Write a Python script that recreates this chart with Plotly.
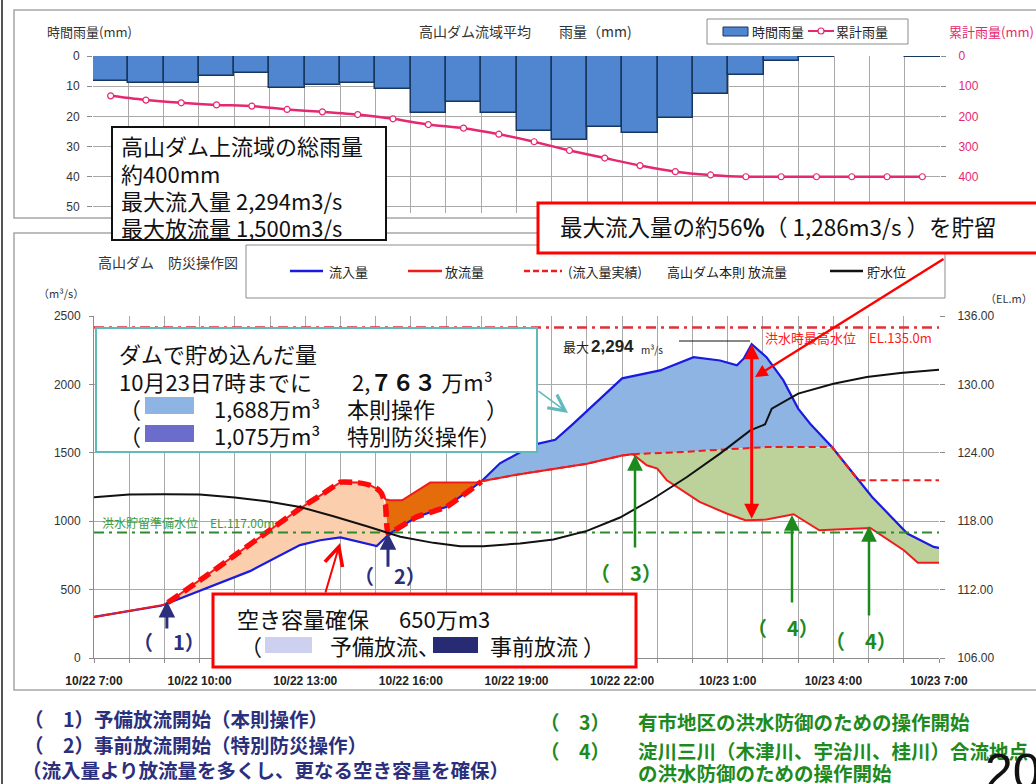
import numpy as np
import plotly.graph_objects as go

W, H = 1036, 784
CJK = "Noto Sans CJK JP"
LAT = "Liberation Sans"

# ---------------- data ----------------
rain_hour_index = list(range(24))          # hours after 10/22 7:00
hourly_rain_mm = [8.3, 9.0, 9.0, 6.6, 5.5, 10.7, 9.6, 9.0, 11.0, 19.0, 15.1, 18.9,
                  24.7, 27.8, 23.6, 25.4, 20.4, 12.7, 6.2, 1.7, 0.4, 0.0, 0.0, 0.3]
cumulative_rain_mm = [132, 146, 155, 162, 166, 177, 185, 194, 208, 227, 239, 259,
                      284, 313, 338, 363, 383, 394, 400, 400, 400, 400, 400, 400]

tick_hours = [0, 3, 6, 9, 12, 15, 18, 21, 24]
tick_labels = ["10/22 7:00", "10/22 10:00", "10/22 13:00", "10/22 16:00", "10/22 19:00",
               "10/22 22:00", "10/23 1:00", "10/23 4:00", "10/23 7:00"]

inflow_t = [0, 1, 1.9, 2.1, 3, 4.43, 5.85, 6.42, 7.0, 7.56, 8.03, 8.4, 9.16, 10.0, 10.87, 11.0,
            11.53, 12.5, 13.1, 13.6, 15.0, 16.08, 17.03, 17.78, 18.26, 18.45, 18.68, 19.1,
            19.58, 20.0, 20.34, 20.96, 22.1, 23.1, 23.85, 24]
inflow_q = [300, 345, 382, 400, 490, 635, 825, 861, 881, 849, 818, 910, 1031, 1104, 1263, 1290,
            1423, 1560, 1595, 1710, 2044, 2102, 2199, 2175, 2139, 2188, 2294, 2199,
            2029, 1823, 1713, 1542, 1177, 910, 812, 805]

outflow_t = [0, 1, 2, 2.1, 3, 4, 5, 5.85, 6.5, 7.0, 7.5, 7.84, 8.05, 8.17, 8.28, 8.4, 8.75,
             9.55, 10.87, 11.0, 12, 13, 14, 15, 15.3, 15.7, 16.0, 16.27, 16.55, 17.2, 17.97,
             18.5, 19.1, 19.87, 20.6, 21.3, 22.05, 23.0, 23.4, 24]
outflow_q = [300, 345, 390, 405, 566, 751, 936, 1093, 1200, 1285, 1282, 1263, 1235, 1202, 1160,
             1153, 1153, 1282, 1282, 1292, 1340, 1380, 1420, 1480, 1490, 1409, 1385, 1299, 1250,
             1141, 1056, 1007, 1012, 1051, 934, 940, 951, 788, 696, 696]

# thick dashed line: pre-release outflow, then rule outflow (= inflow)
pre_t = [2.1, 3, 4, 5, 5.85, 6.5, 7.0, 7.5, 7.84, 8.05, 8.17, 8.28, 8.35, 9.16, 10.0, 10.87, 11.0]
pre_q = [405, 566, 751, 936, 1093, 1200, 1285, 1282, 1263, 1235, 1202, 1120, 910, 1031, 1104,
         1263, 1290]

# 高山ダム本則 放流量 (dashed)
rule_t = [11.0, 12, 13, 14, 15, 15.3, 16.7, 18.0, 19.1, 20.96, 21.7, 24]
rule_q = [1292, 1340, 1380, 1420, 1480, 1490, 1506, 1525, 1542, 1542, 1300, 1300]

level_t = [0, 1, 2, 3, 4, 4.9, 5.85, 6.8, 7.75, 8.4, 8.7, 9.64, 10.4, 11.06, 12.1, 13.05, 14.0,
           14.94, 15.89, 16.84, 17.78, 18.64, 19.06, 19.25, 20.0, 21.0, 21.95, 22.9, 24]
level_el = [120.1, 120.35, 120.37, 120.34, 120.08, 119.75, 119.25, 118.44, 117.56, 116.92,
            116.63, 116.1, 115.81, 115.81, 116.05, 116.4, 117.15, 118.32, 119.99, 121.88,
            123.93, 125.97, 126.5, 127.87, 129.19, 130.06, 130.64, 130.99, 131.29]

max_flood_level_el = 135.0
standby_level_el = 117.0
peak_hour, peak_q, peak_out = 18.68, 2294, 1007

# ---------------- helpers ----------------
def P(x):
    return x / W


def Q(y):
    return 1 - y / H


GRID = "#a9a9a9"
BLUE = "#1a1ae0"
RED = "#f01c1c"
PINK = "#e5286f"
NAVY = "#2b2f7c"
GREEN = "#1e8a1e"
TEAL = "#5fb9bd"

fig = go.Figure()

# ---- top: rainfall ----
bar_x = [h + 0.5 for h in rain_hour_index]
fig.add_trace(go.Bar(x=bar_x, y=hourly_rain_mm, width=1.0, xaxis="x", yaxis="y",
                     marker=dict(color="#4f86cf", line=dict(color="#17375e", width=1.5)),
                     hoverinfo="skip"))
fig.add_trace(go.Scatter(x=bar_x, y=cumulative_rain_mm, xaxis="x", yaxis="y2",
                         mode="lines+markers",
                         line=dict(color=PINK, width=2.5, shape="spline", smoothing=0.5),
                         marker=dict(symbol="circle", size=6, color="white",
                                     line=dict(color=PINK, width=1.2)),
                         hoverinfo="skip"))


# ---- bottom: fills ----
def grid(a, b, *knots):
    parts = [np.linspace(a, b, 800)]
    for k in knots:
        parts.append(np.array([v for v in k if a <= v <= b], dtype=float))
    return np.unique(np.concatenate(parts))


def band(tt, top, bot, color):
    fig.add_trace(go.Scatter(x=np.concatenate([tt, tt[::-1]]),
                             y=np.concatenate([top, bot[::-1]]),
                             fill="toself", fillcolor=color, mode="lines",
                             line=dict(width=0), xaxis="x2", yaxis="y3", hoverinfo="skip"))


tt = grid(2.1, 8.35, pre_t, inflow_t)
band(tt, np.interp(tt, pre_t, pre_q), np.interp(tt, inflow_t, inflow_q), "#fbcfae")
tt = grid(8.28, 11.0, pre_t, outflow_t)
band(tt, np.interp(tt, outflow_t, outflow_q), np.interp(tt, pre_t, pre_q), "#e46c0a")
tt = grid(11.0, 21.3, rule_t, inflow_t)
inf = np.interp(tt, inflow_t, inflow_q)
band(tt, inf, np.minimum(np.interp(tt, rule_t, rule_q), inf), "#8db4e2")
tt = grid(15.3, 24, rule_t, inflow_t, outflow_t)
inf = np.interp(tt, inflow_t, inflow_q)
band(tt, np.minimum(np.interp(tt, rule_t, rule_q), inf), np.interp(tt, outflow_t, outflow_q),
     "#bdd19b")

# ---- bottom: lines ----
fig.add_trace(go.Scatter(x=inflow_t, y=inflow_q, xaxis="x2", yaxis="y3", mode="lines",
                         line=dict(color=BLUE, width=2.2), hoverinfo="skip"))
fig.add_trace(go.Scatter(x=rule_t, y=rule_q, xaxis="x2", yaxis="y3", mode="lines",
                         line=dict(color=RED, width=2, dash="7px,4px"), hoverinfo="skip"))
fig.add_trace(go.Scatter(x=outflow_t, y=outflow_q, xaxis="x2", yaxis="y3", mode="lines",
                         line=dict(color=RED, width=2), hoverinfo="skip"))
fig.add_trace(go.Scatter(x=pre_t, y=pre_q, xaxis="x2", yaxis="y3", mode="lines",
                         line=dict(color="#ff0a0a", width=5.5, dash="13px,6px", shape="spline",
                                   smoothing=0.3), hoverinfo="skip"))
fig.add_trace(go.Scatter(x=[0, 24], y=[max_flood_level_el] * 2, xaxis="x2", yaxis="y4",
                         mode="lines", line=dict(color="#e0303a", width=2.5,
                                                 dash="10px,5px,3px,5px"), hoverinfo="skip"))
fig.add_trace(go.Scatter(x=[0, 24], y=[standby_level_el] * 2, xaxis="x2", yaxis="y4",
                         mode="lines", line=dict(color="#2f8a2f", width=2,
                                                 dash="10px,5px,3px,5px"), hoverinfo="skip"))
fig.add_trace(go.Scatter(x=level_t, y=level_el, xaxis="x2", yaxis="y4", mode="lines",
                         line=dict(color="#111111", width=2), hoverinfo="skip"))

# ---------------- shapes ----------------
shapes = []


def rect(x0, y0, x1, y1, color=None, width=1.0, fill=None):
    shapes.append(dict(type="rect", xref="paper", yref="paper", x0=P(x0), x1=P(x1),
                       y0=Q(y1), y1=Q(y0), layer="above",
                       line=dict(color=color or "rgba(0,0,0,0)", width=width if color else 0),
                       fillcolor=fill or "rgba(0,0,0,0)"))


def seg(x0, y0, x1, y1, color, width, dash=None):
    shapes.append(dict(type="line", xref="paper", yref="paper", x0=P(x0), x1=P(x1),
                       y0=Q(y0), y1=Q(y1), layer="above",
                       line=dict(color=color, width=width, dash=dash)))


seg(2, 0, 2, 784, "#555555", 2)
rect(14, 10, 1046, 218, "#a6a6a6", 1.5)
rect(14, 233, 1046, 690, "#a6a6a6", 1.5)
# top legend
rect(707, 19, 908, 44, "#8c8c8c", 1, "white")
rect(723, 27, 748, 36, "#17375e", 1, "#4f86cf")
seg(808, 31, 834, 31, PINK, 2)
shapes.append(dict(type="circle", xref="paper", yref="paper", x0=P(818), x1=P(824),
                   y0=Q(34), y1=Q(28), layer="above", fillcolor="white",
                   line=dict(color=PINK, width=1.2)))
# bottom legend
rect(246, 245, 945, 298, "#8c8c8c", 1, "white")
seg(290, 271, 323, 271, BLUE, 2.5)
seg(408, 271, 442, 271, RED, 2.5)
seg(524, 271, 562, 271, RED, 2.5, "6px,3px")
seg(830, 271, 863, 271, "#111111", 2.5)
# boxes
rect(112, 127, 386, 240, "#111111", 2, "white")
rect(538, 203, 1046, 253, "#ff0000", 3, "white")
rect(96, 328, 537, 452, TEAL, 2, "white")
rect(145, 397, 194, 414, None, 0, "#8db4e2")
rect(145, 425, 194, 442, None, 0, "#6c6ccd")
rect(213, 594, 636, 667, "#ff0000", 3, "white")
rect(265, 637, 312, 653, None, 0, "#cdd0ee")
rect(433, 637, 478, 653, None, 0, "#262b73")
seg(679, 341, 750, 341, "#111111", 1.2)

# ---------------- annotations ----------------
ann = []


def text(x, y, s, size=13, color="#222222", family=CJK, anchor="left"):
    ann.append(dict(xref="paper", yref="paper", x=P(x), y=Q(y), text=s, showarrow=False,
                    xanchor=anchor, yanchor="middle",
                    font=dict(size=size, color=color, family=family)))


def arrow(x, y, ax, ay, color, width, head=2, size=1.0, data_tail=False, both=False):
    d = dict(xref="x2", yref="y3", x=x, y=y, ax=ax, ay=ay, text="", showarrow=True,
             arrowcolor=color, arrowwidth=width, arrowhead=head, arrowsize=size)
    if data_tail:
        d.update(axref="x2", ayref="y3")
    if both:
        d.update(arrowside="end+start", startarrowhead=head, startarrowsize=size)
    ann.append(d)


# top chart texts
text(45, 31, "時間雨量(mm)", 13, "#333333")
text(417, 31, "高山ダム流域平均", 14, "#333333")
text(557, 31, "雨量（mm)", 14, "#333333")
text(947, 31, "累計雨量(mm)", 13, PINK)
text(750, 31, "時間雨量", 13, "#222222")
text(834, 31, "累計雨量", 13, "#222222")
text(119, 145, "高山ダム上流域の総雨量", 22, "#111111")
text(119, 173, "約400mm", 22, "#111111")
text(119, 200, "最大流入量 2,294m3/s", 22, "#111111")
text(119, 227, "最大放流量 1,500m3/s", 22, "#111111")
text(558, 226, "最大流入量の約56<b>％</b>（ 1,286m3/s ）を貯留", 22.5, "#111111")

# bottom chart texts
text(96, 262, "高山ダム　防災操作図", 14, "#333333")
text(327, 272, "流入量", 13)
text(443, 272, "放流量", 13)
text(566, 272, "(流入量実績)", 13)
text(665, 272, "高山ダム本則 放流量", 13)
text(865, 272, "貯水位", 13)
text(36, 293, "（m³/s）", 11, "#333333")
text(983, 298, "（EL.m）", 11, "#333333")
text(763, 337, "洪水時最高水位　EL.135.0m", 13, "#ff1a1a")
text(100, 522, "洪水貯留準備水位　EL.117.00m", 12, "#3f9a3f")
text(561, 347, "最大", 13, "#222222")
text(589, 346, "<b>2,294</b>", 17, "#222222", LAT)
text(639, 349, "m³/s", 10, "#222222")

text(117, 353, "ダムで貯め込んだ量", 22, "#111111")
text(117, 381, "10月23日7時までに", 22, "#111111")
text(350, 381, "2,<b>７６３</b> 万m³", 22, "#111111")
text(117, 408, "（", 22, "#111111")
text(212, 408, "1,688万m³", 22, "#111111")
text(345, 408, "本則操作", 22, "#111111")
text(484, 408, "）", 22, "#111111")
text(117, 435, "（", 22, "#111111")
text(212, 435, "1,075万m³", 22, "#111111")
text(345, 435, "特別防災操作）", 22, "#111111")

text(235, 618, "空き容量確保", 22, "#111111")
text(397, 618, "650万m3", 22, "#111111")
text(238, 645, "（", 22, "#111111")
text(328, 645, "予備放流、", 22, "#111111")
text(488, 645, "事前放流 ）", 22, "#111111")

text(131, 641, "<b>（　1）</b>", 20, NAVY)
text(352, 575, "<b>（　2）</b>", 20, NAVY)
text(588, 572, "<b>（　3）</b>", 20, GREEN)
text(745, 627, "<b>（　4）</b>", 20, GREEN)
text(823, 640, "<b>（　4）</b>", 20, GREEN)

# bottom notes
text(22, 718, "<b>（　1）予備放流開始（本則操作）</b>", 19.5, NAVY)
text(22, 744, "<b>（　2）事前放流開始（特別防災操作）</b>", 19.5, NAVY)
text(20, 769, "<b>（流入量より放流量を多くし、更なる空き容量を確保）</b>", 19.5, NAVY)
text(538, 721, "<b>（　3）</b>", 19.5, GREEN)
text(636, 721, "<b>有市地区の洪水防御のための操作開始</b>", 19.5, GREEN)
text(538, 750, "<b>（　4）</b>", 19.5, GREEN)
text(636, 750, "<b>淀川三川（木津川、宇治川、桂川）合流地点</b>", 19.5, GREEN)
text(636, 772, "<b>の洪水防御のための操作開始</b>", 19.5, GREEN)
text(983, 772, "20", 50, "#111111", LAT)


def hx(px_):
    return (px_ - 94) / (939 - 94) * 24


def qy(py_):
    return (658 - py_) / (658 - 316) * 2500


# arrows
arrow(peak_hour, peak_q, peak_hour, peak_out, "#ff0000", 3, 2, 1.0, data_tail=True, both=True)
arrow(hx(755), qy(377), 190, -119, "#ff0000", 2.5, 2, 1.0)
arrow(hx(568), qy(413), -31, -23, TEAL, 1.6, 5, 2.0)
arrow(hx(340), qy(543), -15, 51, "#ff0000", 2, 5, 1.8)
arrow(2.07, qy(601), 0, 29, NAVY, 3, 2, 1.1)
arrow(8.35, 912, 0, 35, NAVY, 3, 2, 1.1)
arrow(hx(635), qy(455), 0, 94, GREEN, 2.5, 2, 1.25)
arrow(hx(792), qy(515), 0, 89, GREEN, 2.5, 2, 1.25)
arrow(hx(869), qy(526), 0, 91, GREEN, 2.5, 2, 1.25)

tick_text_all = [tick_labels[tick_hours.index(h)] if h in tick_hours else "" for h in range(25)]

fig.update_layout(
    width=W, height=H, margin=dict(l=0, r=0, t=0, b=0, autoexpand=False),
    paper_bgcolor="white", plot_bgcolor="white", showlegend=False, bargap=0,
    font=dict(family=CJK, size=12, color="#222222"),
    shapes=shapes, annotations=ann,
    xaxis=dict(domain=[P(93), P(940)], range=[0, 24], anchor="y", tickvals=list(range(25)),
               showticklabels=False, showgrid=True, gridcolor=GRID, zeroline=False, ticks="",
               automargin=False),
    yaxis=dict(domain=[Q(213), Q(56)], range=[52, 0], anchor="x",
               tickvals=[0, 10, 20, 30, 40, 50], showgrid=True, gridcolor=GRID, zeroline=False,
               ticks="outside", ticklen=5, tickcolor="#8c8c8c", ticklabelstandoff=5,
               tickfont=dict(family=LAT, size=12, color="#333333"), automargin=False),
    yaxis2=dict(overlaying="y", side="right", anchor="x", range=[520, 0],
                tickvals=[0, 100, 200, 300, 400, 500], showgrid=False, zeroline=False,
                ticks="outside", ticklen=5, tickcolor="#8c8c8c", ticklabelstandoff=10,
                tickfont=dict(family=LAT, size=12, color=PINK), automargin=False),
    xaxis2=dict(domain=[P(94), P(939)], range=[0, 24], anchor="y3", tickvals=list(range(25)),
                ticktext=tick_text_all, tickangle=0, showgrid=True, gridcolor=GRID,
                zeroline=False, showline=True, linecolor="#8c8c8c", ticks="outside", ticklen=4,
                tickcolor="#8c8c8c", ticklabelstandoff=8, automargin=False,
                tickfont=dict(family=LAT, size=12, color="#222222", weight="bold")),
    yaxis3=dict(domain=[Q(658), Q(316)], range=[0, 2500], anchor="x2",
                tickvals=[0, 500, 1000, 1500, 2000, 2500], showgrid=True, gridcolor=GRID,
                zeroline=False, showline=True, linecolor="#8c8c8c", ticks="outside", ticklen=4,
                tickcolor="#8c8c8c", ticklabelstandoff=6, automargin=False,
                tickfont=dict(family=LAT, size=12, color="#333333")),
    yaxis4=dict(overlaying="y3", side="right", anchor="x2", range=[106, 136],
                tickvals=[106, 112, 118, 124, 130, 136], tickformat=".2f", showgrid=False,
                zeroline=False, ticks="outside", ticklen=5, tickcolor="#8c8c8c",
                ticklabelstandoff=10, automargin=False,
                tickfont=dict(family=LAT, size=12, color="#333333")),
)

fig.write_html("out.html", config={"displayModeBar": False},
               post_script="document.body.style.margin='0';document.body.style.overflow='hidden';")
